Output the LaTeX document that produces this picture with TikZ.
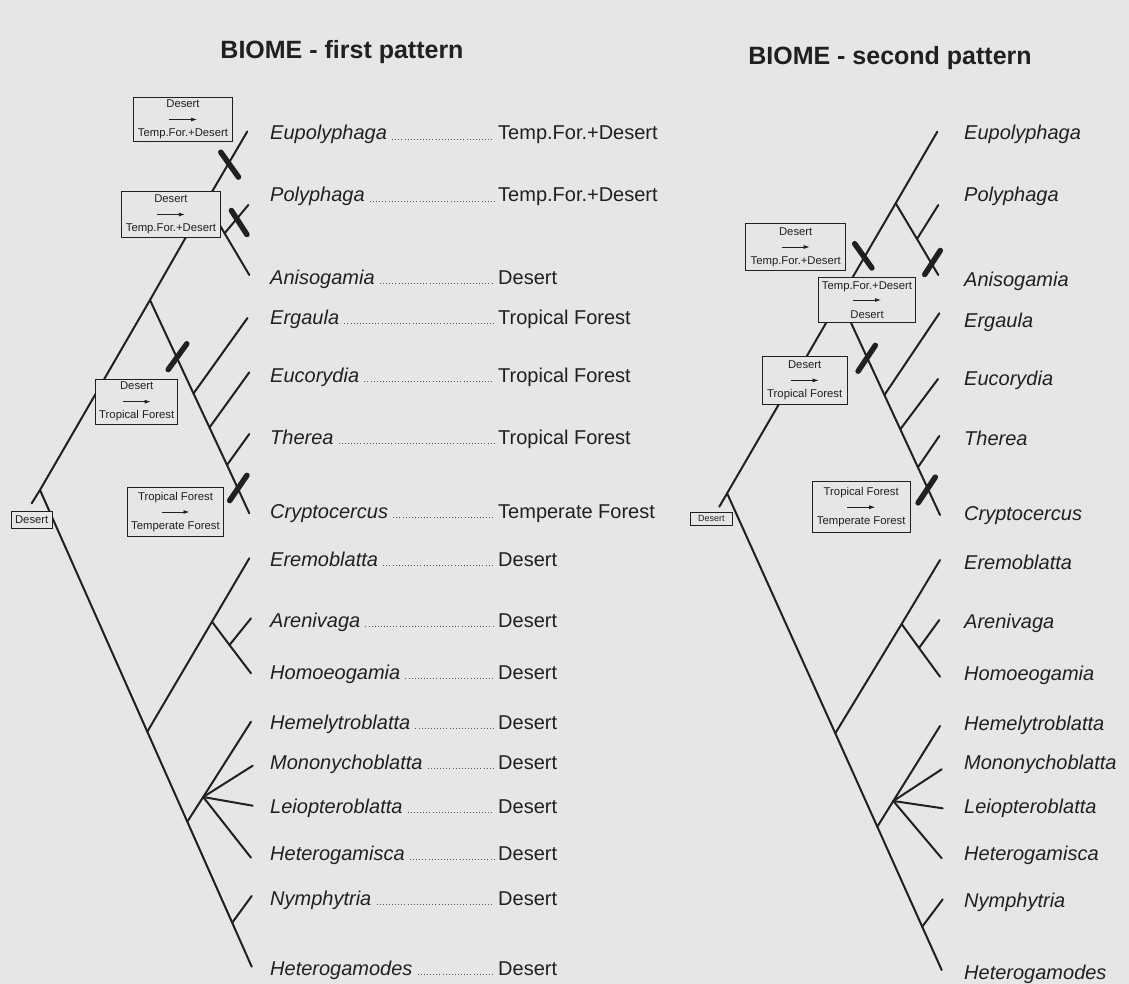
\documentclass[tikz,border=0pt]{standalone}
\usepackage{fontspec}
\setmainfont{Liberation Sans}
\usetikzlibrary{arrows.meta}
\definecolor{bg}{RGB}{229,230,232}
\definecolor{ink}{RGB}{32,32,32}
\begin{document}
\begin{tikzpicture}[x=1pt,y=-1pt,
  treeline/.style={draw=ink, line width=2pt, line cap=round, line join=round},
  xmark/.style={draw=ink, line width=5.5pt, line cap=round},
  taxon/.style={font=\fontsize{20}{24}\selectfont\itshape, text=ink, anchor=base west, inner sep=0pt},
  biome/.style={font=\fontsize{20}{24}\selectfont, text=ink, anchor=base west, inner sep=0pt},
  dotleader/.style={draw=ink!75, line width=0.9pt, dash pattern=on 0.9pt off 2.2pt},
  statebox/.style={draw=ink, line width=0.8pt, fill=bg, inner sep=0pt, align=center,
     font=\fontsize{11.3}{14.5}\selectfont, text=ink},
  changearrow/.style={-{Latex[length=6pt,width=4pt]}, draw=ink, line width=0.8pt},
  titletext/.style={font=\fontsize{25}{30}\selectfont\bfseries, text=ink}]
\useasboundingbox (0,0) rectangle (1129,984);
\fill[bg] (0,0) rectangle (1129,984);

% titles
\node[titletext] (t1) at (342,52) {BIOME - first pattern};
\node[titletext] (t2) at (890,58) {BIOME - second pattern};

% ---------------- left tree ----------------
\coordinate (Lst) at (31.7,503.3);
\coordinate (LR) at (40,490);
\coordinate (LA) at (150,300);
\coordinate (LB) at (206,202);
\coordinate (LtEup) at (247.3,131.5);
\coordinate (LjPol) at (224.6,233.3);
\coordinate (LtPol) at (248.3,205);
\coordinate (LtAni) at (249.3,275);
\coordinate (LjErg) at (193.5,393.5);
\coordinate (LtErg) at (247.5,318);
\coordinate (LjEuc) at (209.5,427.5);
\coordinate (LtEuc) at (249.3,372.3);
\coordinate (LjThe) at (227,465);
\coordinate (LtThe) at (249.3,434);
\coordinate (LtCry) at (249.3,513.3);
\coordinate (LC) at (147.3,731.7);
\coordinate (LtEre) at (249.3,558.3);
\coordinate (LD) at (212,621.7);
\coordinate (LjAre) at (229.5,645);
\coordinate (LtAre) at (251,618.3);
\coordinate (LtHom) at (251,673.3);
\coordinate (LE) at (187.3,821.7);
\coordinate (LF) at (203.2,797);
\coordinate (LtHml) at (251,721.7);
\coordinate (LtMon) at (252.7,765.7);
\coordinate (LtLei) at (252.7,805.7);
\coordinate (LtHtc) at (251,857.7);
\coordinate (LjNym) at (232.2,922.7);
\coordinate (LtNym) at (251.7,896);
\coordinate (LtHtd) at (251.7,966.7);

\draw[treeline] (Lst) -- (LR) -- (LA) -- (LB) -- (LtEup);
\draw[treeline] (LB) -- (LjPol) -- (LtAni);
\draw[treeline] (LjPol) -- (LtPol);
\draw[treeline] (LA) -- (LjErg) -- (LjEuc) -- (LjThe) -- (LtCry);
\draw[treeline] (LjErg) -- (LtErg);
\draw[treeline] (LjEuc) -- (LtEuc);
\draw[treeline] (LjThe) -- (LtThe);
\draw[treeline] (LR) -- (LC) -- (LE) -- (LjNym) -- (LtHtd);
\draw[treeline] (LC) -- (LD) -- (LtEre);
\draw[treeline] (LD) -- (LjAre) -- (LtHom);
\draw[treeline] (LjAre) -- (LtAre);
\draw[treeline] (LE) -- (LF) -- (LtHml);
\draw[treeline] (LF) -- (LtMon);
\draw[treeline] (LF) -- (LtLei);
\draw[treeline] (LF) -- (LtHtc);
\draw[treeline] (LjNym) -- (LtNym);

% left character-state boxes
\node[statebox, minimum width=99.4pt, minimum height=44.4pt] (L1) at (183,119.5) {Desert\\\mbox{}\\Temp.For.+Desert};
\node[statebox, minimum width=99.7pt, minimum height=45.6pt] (L2) at (170.9,214.5) {Desert\\\mbox{}\\Temp.For.+Desert};
\node[statebox, minimum width=82pt, minimum height=45.3pt] (L3) at (136.7,401.7) {Desert\\\mbox{}\\Tropical Forest};
\node[statebox, minimum width=95.6pt, minimum height=49.4pt] (L4) at (175.5,512) {Tropical Forest\\\mbox{}\\Temperate Forest};
\node[statebox, minimum width=41.3pt, minimum height=16.6pt] (L0) at (31.7,520) {Desert};
\foreach \b in {L1,L2,L3,L4}
  \draw[changearrow] ([xshift=-14pt]\b.center) -- ([xshift=14pt]\b.center);

% left transition marks
\draw[xmark] (220.8,152.2) -- (238.5,177.1);
\draw[xmark] (231.4,210.5) -- (246.9,234.5);
\draw[xmark] (168.2,369.6) -- (186.8,343.8);
\draw[xmark] (229.7,500.6) -- (246.9,475.4);

% left labels
\foreach \n/\y/\bio [count=\i] in {
  Eupolyphaga/133/Temp.For.+Desert,
  Polyphaga/195/Temp.For.+Desert,
  Anisogamia/277/Desert,
  Ergaula/317/Tropical Forest,
  Eucorydia/375/Tropical Forest,
  Therea/437/Tropical Forest,
  Cryptocercus/511/Temperate Forest,
  Eremoblatta/559/Desert,
  Arenivaga/620/Desert,
  Homoeogamia/672/Desert,
  Hemelytroblatta/722/Desert,
  Mononychoblatta/762/Desert,
  Leiopteroblatta/806/Desert,
  Heterogamisca/853/Desert,
  Nymphytria/898/Desert,
  Heterogamodes/968/Desert}{
  \node[taxon] (ln\i) at (270,\y+7) {\n};
  \node[biome] (lb\i) at (498,\y+7) {\bio};
  \draw[dotleader] ([xshift=5pt,yshift=1pt]ln\i.base east) -- ([xshift=-4pt,yshift=1pt]lb\i.base west);
}

% ---------------- right tree ----------------
\coordinate (Rst) at (719.3,506.7);
\coordinate (RR) at (727.1,493.3);
\coordinate (RA) at (840,299);
\coordinate (RB) at (895.7,203.3);
\coordinate (RtEup) at (937.3,131.7);
\coordinate (RjPol) at (917,239);
\coordinate (RtPol) at (938.3,205);
\coordinate (RtAni) at (938.3,275);
\coordinate (RjErg) at (884.4,395);
\coordinate (RtErg) at (939.3,313.3);
\coordinate (RjEuc) at (900.3,429.3);
\coordinate (RtEuc) at (938,379);
\coordinate (RjThe) at (917.9,467.3);
\coordinate (RtThe) at (939.3,436);
\coordinate (RtCry) at (940,515);
\coordinate (RC) at (835.3,733.3);
\coordinate (RtEre) at (940,560);
\coordinate (RD) at (901.6,624);
\coordinate (RjAre) at (919,648);
\coordinate (RtAre) at (939.3,620);
\coordinate (RtHom) at (940,676.7);
\coordinate (RE) at (877.3,826.7);
\coordinate (RF) at (893.3,801);
\coordinate (RtHml) at (940,726);
\coordinate (RtMon) at (941.7,769.3);
\coordinate (RtLei) at (942.7,808.3);
\coordinate (RtHtc) at (941.7,858.3);
\coordinate (RjNym) at (922.2,926.7);
\coordinate (RtNym) at (942.7,899.3);
\coordinate (RtHtd) at (941.7,970);

\draw[treeline] (Rst) -- (RR) -- (RA) -- (RB) -- (RtEup);
\draw[treeline] (RB) -- (RjPol) -- (RtAni);
\draw[treeline] (RjPol) -- (RtPol);
\draw[treeline] (RA) -- (RjErg) -- (RjEuc) -- (RjThe) -- (RtCry);
\draw[treeline] (RjErg) -- (RtErg);
\draw[treeline] (RjEuc) -- (RtEuc);
\draw[treeline] (RjThe) -- (RtThe);
\draw[treeline] (RR) -- (RC) -- (RE) -- (RjNym) -- (RtHtd);
\draw[treeline] (RC) -- (RD) -- (RtEre);
\draw[treeline] (RD) -- (RjAre) -- (RtHom);
\draw[treeline] (RjAre) -- (RtAre);
\draw[treeline] (RE) -- (RF) -- (RtHml);
\draw[treeline] (RF) -- (RtMon);
\draw[treeline] (RF) -- (RtLei);
\draw[treeline] (RF) -- (RtHtc);
\draw[treeline] (RjNym) -- (RtNym);

% right character-state boxes
\node[statebox, minimum width=100pt, minimum height=47.4pt] (R1) at (795.7,247) {Desert\\\mbox{}\\Temp.For.+Desert};
\node[statebox, minimum width=97.4pt, minimum height=45.4pt] (R2) at (867,300) {Temp.For.+Desert\\\mbox{}\\Desert};
\node[statebox, minimum width=84.7pt, minimum height=47.3pt] (R3) at (804.7,380.4) {Desert\\\mbox{}\\Tropical Forest};
\node[statebox, minimum width=97.7pt, minimum height=51pt] (R4) at (861.2,507.2) {Tropical Forest\\\mbox{}\\Temperate Forest};
\node[statebox, font=\fontsize{9}{11}\selectfont, minimum width=42.7pt, minimum height=12.3pt] (R0) at (711.3,518.9) {Desert};
\foreach \b in {R1,R2,R3,R4}
  \draw[changearrow] ([xshift=-14pt]\b.center) -- ([xshift=14pt]\b.center);

% right transition marks
\draw[xmark] (854.7,243.7) -- (871.9,268);
\draw[xmark] (940.3,250.5) -- (924.7,274.5);
\draw[xmark] (875.3,345.4) -- (858.1,371.2);
\draw[xmark] (935.3,477.1) -- (918.1,502.9);

% right labels
\foreach \n/\y [count=\i] in {
  Eupolyphaga/133, Polyphaga/195, Anisogamia/280, Ergaula/320,
  Eucorydia/378, Therea/438, Cryptocercus/513, Eremoblatta/562,
  Arenivaga/621, Homoeogamia/673, Hemelytroblatta/723, Mononychoblatta/762,
  Leiopteroblatta/806, Heterogamisca/853, Nymphytria/900, Heterogamodes/972}{
  \node[taxon] (rn\i) at (964,\y+7) {\n};
}
\end{tikzpicture}
\end{document}
